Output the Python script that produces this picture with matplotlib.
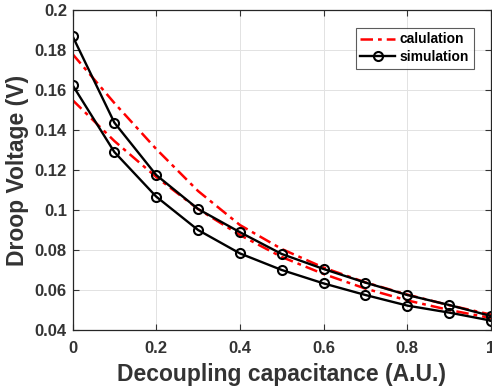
import matplotlib
matplotlib.use('Agg')
import matplotlib.pyplot as plt

# decoupling capacitance (A.U.)
cap = [0.0, 0.1, 0.2, 0.3, 0.4, 0.5, 0.6, 0.7, 0.8, 0.9, 1.0]

# calculated droop, two cases
calc_hi = [0.178, 0.1535, 0.1305, 0.1095, 0.0925, 0.0805, 0.0712, 0.0638, 0.0577, 0.0524, 0.0477]
calc_lo = [0.155, 0.1345, 0.1165, 0.1005, 0.0875, 0.0765, 0.0680, 0.0607, 0.0548, 0.0500, 0.0460]

# simulated droop, two cases
sim_hi = [0.187, 0.1437, 0.1175, 0.1005, 0.0889, 0.0780, 0.0705, 0.0637, 0.0575, 0.0525, 0.0470]
sim_lo = [0.1625, 0.1290, 0.1067, 0.0900, 0.0783, 0.0700, 0.0633, 0.0575, 0.0522, 0.0487, 0.0447]

plt.rcParams['font.family'] = ['Liberation Sans', 'DejaVu Sans']
plt.rcParams['font.weight'] = 'bold'

fig = plt.figure(figsize=(4.92, 3.87), dpi=100)
ax = fig.add_axes([72.5 / 492, 1 - 330 / 387, (491 - 72.5) / 492, 320 / 387])

red = dict(color='red', linestyle='-.', linewidth=1.8, dashes=(5, 2, 1.5, 2))
blk = dict(color='black', linestyle='-', linewidth=1.7, marker='o', markersize=6.5,
           markerfacecolor='none', markeredgewidth=1.5)

ax.plot(cap, calc_hi, label='calulation', **red)
ax.plot(cap, calc_lo, **red)
ax.plot(cap, sim_hi, label='simulation', **blk)
ax.plot(cap, sim_lo, **blk)

ax.set_xlim(0, 1)
ax.set_ylim(0.04, 0.2)
ax.set_xticks([0, 0.2, 0.4, 0.6, 0.8, 1])
ax.set_xticklabels(['0', '0.2', '0.4', '0.6', '0.8', '1'])
ax.set_yticks([0.04, 0.06, 0.08, 0.1, 0.12, 0.14, 0.16, 0.18, 0.2])
ax.set_yticklabels(['0.04', '0.06', '0.08', '0.1', '0.12', '0.14', '0.16', '0.18', '0.2'])

ax.grid(True, color='#e2e2e2', linewidth=0.7)
ax.tick_params(direction='in', top=True, right=True, length=4, width=0.8,
               labelsize=12, colors='#333333')
ax.tick_params(axis='x', pad=8)
ax.tick_params(axis='y', pad=4)
for s in ax.spines.values():
    s.set_color('#262626')
    s.set_linewidth(0.9)

ax.set_xlabel('Decoupling capacitance (A.U.)', fontsize=16.5, fontweight='bold', color='#333333', labelpad=5)
ax.set_ylabel('Droop Voltage (V)', fontsize=16.5, fontweight='bold', color='#333333', labelpad=4)

leg = ax.legend(loc='upper right', fontsize=10, frameon=True, fancybox=False,
                edgecolor='#333333', handlelength=2.5, borderpad=0.35,
                labelspacing=0.25, handletextpad=0.3, bbox_to_anchor=(0.975, 0.967))
leg.get_frame().set_linewidth(0.8)
for t in leg.get_texts():
    t.set_fontweight('bold')

plt.savefig('out.png', dpi=100)
